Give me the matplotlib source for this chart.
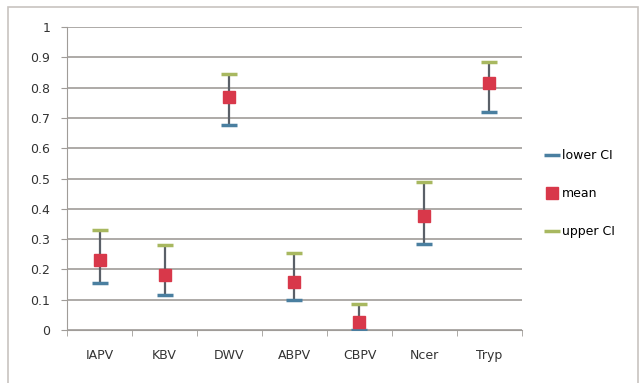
import numpy as np
import matplotlib.pyplot as plt
from matplotlib.patches import Rectangle

categories = ['IAPV', 'KBV', 'DWV', 'ABPV', 'CBPV', 'Ncer', 'Tryp']
lower_ci = [0.155, 0.115, 0.675, 0.10, 0.0, 0.285, 0.72]
mean = [0.23, 0.18, 0.77, 0.16, 0.025, 0.375, 0.815]
upper_ci = [0.33, 0.28, 0.845, 0.255, 0.085, 0.49, 0.885]

fig = plt.figure(figsize=(6.39, 3.83), dpi=100)
fig.patches.append(Rectangle((8 / 639, -0.05), 630 / 639, 1 - 7 / 383 + 0.05,
                             transform=fig.transFigure, fill=False,
                             edgecolor='#c8c4c0', linewidth=1.2))
ax = fig.add_axes([67 / 639, 1 - 330 / 383, 455 / 639, 303 / 383])

x = np.arange(len(categories))
ax.vlines(x, lower_ci, upper_ci, color='#5a6068', linewidth=1.6, zorder=3)
ax.plot(x, lower_ci, linestyle='none', marker='_', markersize=12,
        markeredgewidth=2.5, color='#4a7fa0', label='lower CI', zorder=4)
ax.plot(x, mean, linestyle='none', marker='s', markersize=8,
        color='#d8384a', label='mean', zorder=5)
ax.plot(x, upper_ci, linestyle='none', marker='_', markersize=12,
        markeredgewidth=2.5, color='#a8b860', label='upper CI', zorder=4)

ax.set_xlim(-0.5, len(categories) - 0.5)
ax.set_ylim(0, 1)
ax.set_yticks(np.arange(0, 1.01, 0.1))
ax.set_yticklabels(['0', '0.1', '0.2', '0.3', '0.4', '0.5', '0.6', '0.7',
                    '0.8', '0.9', '1'])
ax.set_xticks(x)
ax.set_xticklabels(categories)
ax.set_xticks(np.arange(-0.5, len(categories)), minor=True)
ax.tick_params(axis='x', which='major', length=0, pad=14, labelsize=9,
               colors='#333333')
ax.tick_params(axis='x', which='minor', length=4, color='#a09c98')
ax.tick_params(axis='y', length=4, color='#a09c98', labelsize=9,
               colors='#333333', pad=8)
ax.yaxis.grid(True, color='#a09c98', linewidth=1.2)
ax.set_axisbelow(True)
for s in ['top', 'right']:
    ax.spines[s].set_visible(False)
ax.spines['left'].set_color('#a09c98')
ax.spines['bottom'].set_color('#a09c98')

ax.legend(loc='center left', bbox_to_anchor=(1.03, 0.45), frameon=False,
          fontsize=9, handlelength=0.8, labelspacing=2.0, handletextpad=0.4)

fig.savefig('out.png', dpi=100)
